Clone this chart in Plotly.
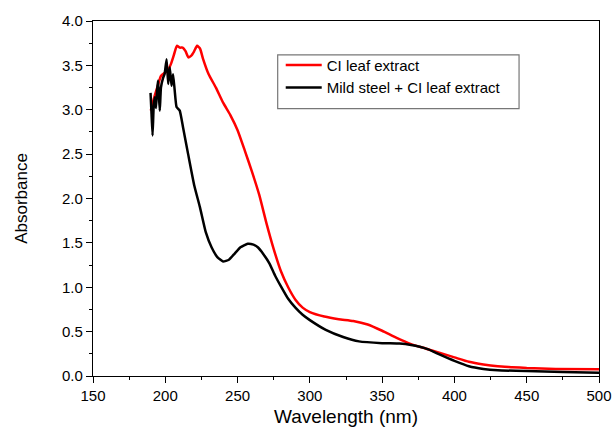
import plotly.graph_objects as go

# CI leaf extract (red)
red_x = [190, 192, 195, 197, 200, 202, 204, 206, 208, 210, 212, 214, 216, 218, 220, 222, 224, 226,
         230, 235, 240, 245, 250, 255, 260, 265, 270, 275, 280, 285, 290, 295, 300, 310, 320, 330,
         340, 350, 360, 370, 380, 390, 400, 410, 420, 430, 440, 450, 470, 500]
red_y = [2.99, 3.12, 3.28, 3.38, 3.42, 3.45, 3.52, 3.62, 3.72, 3.70, 3.70, 3.66, 3.59, 3.61, 3.66, 3.72, 3.69, 3.58,
         3.40, 3.25, 3.08, 2.94, 2.77, 2.54, 2.30, 2.04, 1.72, 1.43, 1.18, 1.00, 0.86, 0.77, 0.72, 0.67, 0.64, 0.62,
         0.58, 0.51, 0.43, 0.36, 0.31, 0.26, 0.21, 0.16, 0.13, 0.11, 0.10, 0.09, 0.08, 0.075]

# Mild steel + CI leaf extract (black)
blk_x = [189.8, 190.5, 191.2, 192.0, 192.8, 193.6, 194.3, 195.0, 195.6, 196.2, 197.0, 198.5, 199.5, 200.9,
         202.0, 203.1, 204.3, 205.4, 206.5, 207.8, 210, 212.3, 215.8, 220, 224, 228, 232, 236, 240, 244,
         248, 252, 257, 261, 264, 268, 272, 276, 280, 285, 290, 295, 300, 311, 323, 334, 350, 362, 370,
         376, 382, 390, 400, 410, 420, 430, 450, 475, 500]
blk_y = [3.19, 2.95, 2.71, 3.05, 3.14, 3.02, 3.22, 3.33, 3.15, 2.99, 3.25, 3.36, 3.40, 3.57,
         3.29, 3.48, 3.27, 3.40, 3.22, 3.03, 2.99, 2.80, 2.50, 2.15, 1.90, 1.62, 1.45, 1.34, 1.29, 1.31,
         1.38, 1.45, 1.49, 1.48, 1.45, 1.37, 1.27, 1.13, 1.01, 0.87, 0.77, 0.69, 0.63, 0.52, 0.44, 0.39, 0.37, 0.365, 0.35,
         0.33, 0.30, 0.24, 0.17, 0.11, 0.08, 0.065, 0.055, 0.045, 0.037]

x_ticks = [150, 200, 250, 300, 350, 400, 450, 500]
y_ticks = [0.0, 0.5, 1.0, 1.5, 2.0, 2.5, 3.0, 3.5, 4.0]

FONT = "Liberation Sans, Arial, sans-serif"

fig = go.Figure()
fig.add_trace(go.Scatter(x=red_x, y=red_y, mode="lines", name="CI leaf extract",
                         line=dict(color="#ff0000", width=2.5, shape="spline", smoothing=0.5)))
fig.add_trace(go.Scatter(x=blk_x, y=blk_y, mode="lines", name="Mild steel + CI leaf extract",
                         line=dict(color="#000000", width=2.5, shape="spline", smoothing=0.4)))

axis_common = dict(showline=True, linecolor="black", linewidth=1.3, mirror=True,
                   ticks="outside", ticklen=6, tickwidth=1.2, tickcolor="black",
                   showgrid=False, zeroline=False, automargin=False,
                   tickfont=dict(family=FONT, size=15, color="black"))

fig.update_xaxes(range=[150, 500], tickvals=x_ticks, ticktext=[str(v) for v in x_ticks],
                 minor=dict(dtick=25, ticks="outside", ticklen=3, tickwidth=1.2, tickcolor="black"),
                 title=dict(text="Wavelength (nm)", font=dict(family=FONT, size=19, color="black"), standoff=6),
                 **axis_common)
fig.update_yaxes(range=[0, 4.0], tickvals=y_ticks, ticktext=[f"{v:.1f}" for v in y_ticks],
                 minor=dict(dtick=0.25, ticks="outside", ticklen=3, tickwidth=1.2, tickcolor="black"),
                 title=dict(text="Absorbance", font=dict(family=FONT, size=17, color="black"), standoff=30),
                 **axis_common)

# legend frame drawn as a paper-space rectangle
fig.add_shape(type="rect", xref="paper", yref="paper", x0=0.365, x1=0.842, y0=0.753, y1=0.9045,
              line=dict(color="#777777", width=1.2), fillcolor="rgba(0,0,0,0)", layer="above")

fig.update_layout(
    width=614, height=434,
    margin=dict(l=93, r=15, t=21, b=58),
    paper_bgcolor="white", plot_bgcolor="white",
    showlegend=True,
    legend=dict(x=0.371, y=0.922, xanchor="left", yanchor="top",
                borderwidth=0, bgcolor="rgba(0,0,0,0)",
                font=dict(family=FONT, size=15, color="black"),
                itemwidth=36, tracegroupgap=0),
)

fig.write_html("out.html", config={"displayModeBar": False},
               post_script="document.body.style.margin='0';document.body.style.padding='0';")
